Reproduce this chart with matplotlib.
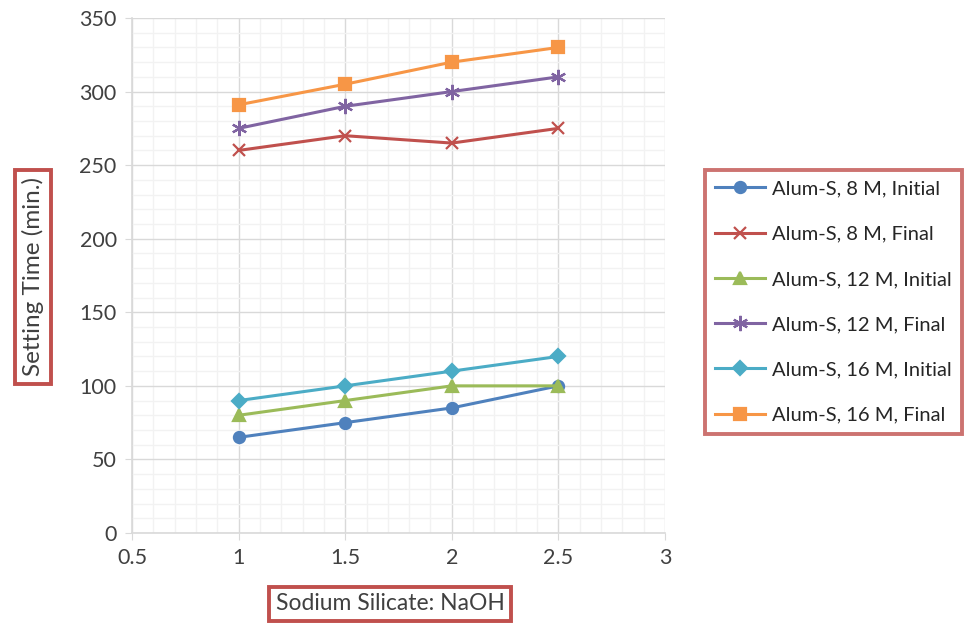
import matplotlib.pyplot as plt
from matplotlib.ticker import MultipleLocator

plt.rcParams['font.family'] = ['Lato', 'DejaVu Sans']

ratio = [1, 1.5, 2, 2.5]

s8_initial = [65, 75, 85, 100]
s8_final = [260, 270, 265, 275]
s12_initial = [80, 90, 100, 100]
s12_final = [275, 290, 300, 310]
s16_initial = [90, 100, 110, 120]
s16_final = [291, 305, 320, 330]

series = [
    ("Alum-S, 8 M, Initial", s8_initial, "#4F81BD", "o", 8),
    ("Alum-S, 8 M, Final", s8_final, "#C0504D", "x", 9),
    ("Alum-S, 12 M, Initial", s12_initial, "#9BBB59", "^", 9),
    ("Alum-S, 12 M, Final", s12_final, "#8064A2", (6, 2, 0), 11),
    ("Alum-S, 16 M, Initial", s16_initial, "#4BACC6", "D", 7),
    ("Alum-S, 16 M, Final", s16_final, "#F79646", "s", 8),
]

box_red = "#C0504D"
text_col = "#404040"

fig = plt.figure(figsize=(9.75, 6.28), dpi=100)
ax = fig.add_axes([132 / 975, 1 - 533 / 628, 533 / 975, 515 / 628])

for name, vals, col, mk, ms in series:
    ax.plot(ratio, vals, color=col, marker=mk, markersize=ms, linewidth=2.2,
            markeredgewidth=1.6, markerfacecolor=col, markeredgecolor=col, label=name)

ax.set_xlim(0.5, 3)
ax.set_ylim(0, 350)
ax.xaxis.set_major_locator(MultipleLocator(0.5))
ax.xaxis.set_minor_locator(MultipleLocator(0.1))
ax.yaxis.set_major_locator(MultipleLocator(50))
ax.yaxis.set_minor_locator(MultipleLocator(10))
ax.set_xticks([0.5, 1, 1.5, 2, 2.5, 3])
ax.set_xticklabels(["0.5", "1", "1.5", "2", "2.5", "3"])

ax.grid(which="major", color="#D9D9D9", linewidth=1.0)
ax.grid(which="minor", color="#F2F2F2", linewidth=1.0)
ax.set_axisbelow(True)
for sp in ["top", "right"]:
    ax.spines[sp].set_visible(False)
for sp in ["left", "bottom"]:
    ax.spines[sp].set_color("#D9D9D9")
    ax.spines[sp].set_linewidth(1.2)

ax.tick_params(which="major", length=5, color="#D9D9D9", labelsize=15.5,
               labelcolor=text_col, pad=6)
ax.tick_params(which="minor", length=0)

lbl_box = dict(boxstyle="square,pad=0.3", fc="white", ec=box_red, lw=2.8)
ax.set_ylabel("Setting Time (min.)", fontsize=17.5, color=text_col, bbox=lbl_box)
ax.set_xlabel("Sodium Silicate: NaOH", fontsize=16.5, color=text_col, bbox=lbl_box)
ax.yaxis.label.set_va("center")
ax.xaxis.label.set_va("center")
ax.yaxis.set_label_coords((33 - 132) / 533, (533 - 277) / 515)
ax.xaxis.set_label_coords((390 - 132) / 533, (533 - 604) / 515)

leg = fig.legend(loc="center left", bbox_to_anchor=(705 / 975, 1 - 302 / 628),
                 borderaxespad=0, fontsize=14.5, frameon=True, fancybox=False,
                 labelspacing=1.4, handlelength=2.5, handletextpad=0.35, borderpad=0.5)
leg.get_frame().set_edgecolor(box_red)
leg.get_frame().set_linewidth(2.8)
for t in leg.get_texts():
    t.set_color("#262626")

fig.savefig("out.png", dpi=100)
